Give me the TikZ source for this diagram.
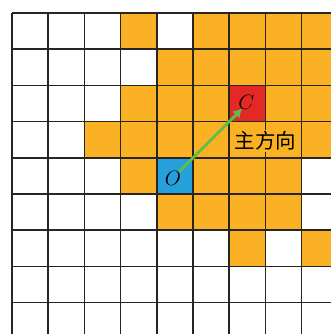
\documentclass[tikz,border=0pt]{standalone}
\usepackage{fontspec}
\newfontfamily\cjk{Noto Sans CJK SC}
\usetikzlibrary{arrows.meta}
\definecolor{cellorange}{RGB}{250,178,36}
\definecolor{cellred}{RGB}{228,40,38}
\definecolor{cellblue}{RGB}{38,160,218}
\definecolor{arrowgreen}{RGB}{96,190,72}
\definecolor{gridline}{RGB}{40,36,32}
\tikzset{
  cellbox/.style={minimum size=36.2pt, inner sep=0pt, outer sep=0pt, draw=none},
  gridstyle/.style={draw=gridline, line width=1.7pt},
  letter/.style={font=\fontsize{22}{22}\selectfont},
  dirarrow/.style={draw=arrowgreen, line width=2.8pt, -{Latex[length=9pt,width=10pt]}},
  dirlabel/.style={fill=cellorange, inner sep=1pt, font=\cjk\fontsize{20.5}{20.5}\selectfont}
}
\begin{document}
\begin{tikzpicture}[x=1pt,y=-1pt]
\useasboundingbox (0,0) rectangle (331,334);
\begin{scope}
\clip (0,0) rectangle (331,334);
\fill[white] (0,0) rectangle (331,334);
% orange cells (col,row)
\foreach \c/\r in {3/0,5/0,6/0,7/0,8/0,
                   4/1,5/1,6/1,7/1,8/1,
                   3/2,4/2,5/2,7/2,8/2,
                   2/3,3/3,4/3,5/3,6/3,7/3,8/3,
                   3/4,5/4,6/4,7/4,
                   4/5,5/5,6/5,7/5,
                   6/6,8/6}
  \fill[cellorange] ({12+36.2*\c},{13+36.2*\r}) rectangle ++(36.2,36.2);
\node[cellbox, fill=cellred] (C) at ({12+36.2*6.5},{13+36.2*2.5}) {};
\node[cellbox, fill=cellblue] (O) at ({12+36.2*4.5},{13+36.2*4.5}) {};
% grid
\foreach \i in {0,...,9}
  \draw[gridstyle] ({12+36.2*\i},13) -- ({12+36.2*\i},340);
\foreach \j in {0,...,9}
  \draw[gridstyle] (12,{13+36.2*\j}) -- (340,{13+36.2*\j});
\node[letter] (Ctext) at ([xshift=-1pt,yshift=1pt]C.center) {$C$};
\node[letter] (Otext) at ([xshift=-2pt,yshift=-3pt]O.center) {$O$};
\draw[dirarrow, shorten <=6pt, shorten >=7pt] (O.center) -- (C.center);
\node[dirlabel] (lab) at (265.5,141) {主方向};
\end{scope}
\end{tikzpicture}
\end{document}
